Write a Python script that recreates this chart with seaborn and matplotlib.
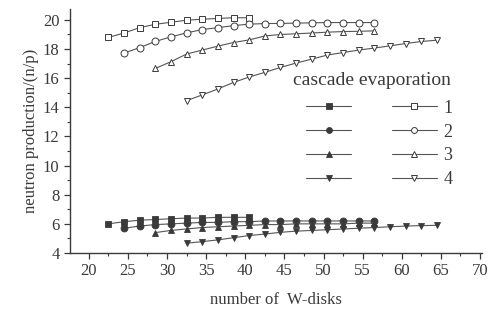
import numpy as np
import pandas as pd
import matplotlib
matplotlib.use("Agg")
import matplotlib.pyplot as plt
import seaborn as sns
from matplotlib.ticker import MultipleLocator

# ---- data ----
evap1_x = [22.5, 24.5, 26.5, 28.5, 30.5, 32.5, 34.5, 36.5, 38.5, 40.5]
evap1_y = [18.8, 19.1, 19.47, 19.7, 19.84, 19.98, 20.05, 20.1, 20.15, 20.15]

evap2_x = [24.5, 26.5, 28.5, 30.5, 32.5, 34.5, 36.5, 38.5, 40.5, 42.5, 44.5,
           46.5, 48.5, 50.5, 52.5, 54.5, 56.5]
evap2_y = [17.72, 18.1, 18.52, 18.84, 19.11, 19.34, 19.47, 19.61, 19.71, 19.75,
           19.76, 19.78, 19.8, 19.82, 19.82, 19.82, 19.82]

evap3_x = [28.5, 30.5, 32.5, 34.5, 36.5, 38.5, 40.5, 42.5, 44.5, 46.5, 48.5,
           50.5, 52.5, 54.5, 56.5]
evap3_y = [16.67, 17.13, 17.66, 17.93, 18.2, 18.45, 18.63, 18.9, 19.0, 19.05,
           19.1, 19.16, 19.2, 19.22, 19.25]

evap4_x = [32.5, 34.5, 36.5, 38.5, 40.5, 42.5, 44.5, 46.5, 48.5, 50.5, 52.5,
           54.5, 56.5, 58.5, 60.5, 62.5, 64.5]
evap4_y = [14.46, 14.85, 15.26, 15.71, 16.08, 16.4, 16.74, 17.04, 17.31, 17.59,
           17.76, 17.93, 18.07, 18.22, 18.38, 18.52, 18.61]

casc1_y = [6.0, 6.15, 6.25, 6.3, 6.35, 6.4, 6.4, 6.45, 6.45, 6.45]
casc2_y = [5.7, 5.85, 5.95, 6.0, 6.05, 6.1, 6.1, 6.15, 6.15, 6.2, 6.2, 6.2,
           6.2, 6.2, 6.2, 6.2, 6.2]
casc3_y = [5.4, 5.55, 5.65, 5.75, 5.8, 5.85, 5.9, 5.95, 5.95, 6.0, 6.0, 6.0,
           6.0, 6.05, 6.05]
casc4_y = [4.67, 4.78, 4.9, 5.05, 5.2, 5.3, 5.42, 5.5, 5.55, 5.6, 5.65, 5.7,
           5.75, 5.8, 5.85, 5.88, 5.9]

series_labels = ["1", "2", "3", "4"]
x_ticks = [20, 25, 30, 35, 40, 45, 50, 55, 60, 65, 70]
y_ticks = [4, 6, 8, 10, 12, 14, 16, 18, 20]

# ---- style ----
sns.set_style("ticks")
plt.rcParams["font.family"] = ["Liberation Serif", "DejaVu Serif"]

INK = "#3a3a3a"
LINE = "#555555"

fig = plt.figure(figsize=(4.92, 3.15), dpi=100)
ax = fig.add_axes([70 / 492, 1 - 253 / 315, 412 / 492, 244 / 315])

markers = ["s", "o", "^", "v"]
evap_x = [evap1_x, evap2_x, evap3_x, evap4_x]
evap_y = [evap1_y, evap2_y, evap3_y, evap4_y]
casc_y = [casc1_y, casc2_y, casc3_y, casc4_y]

casc_handles = []
evap_handles = []
for i in range(4):
    df_c = pd.DataFrame({"x": evap_x[i], "y": casc_y[i]})
    sns.lineplot(data=df_c, x="x", y="y", ax=ax, color=LINE, lw=0.8,
                 marker=markers[i], markersize=5, markerfacecolor=INK,
                 markeredgecolor=INK, markeredgewidth=0.6, legend=False)
    casc_handles.append(ax.lines[-1])
    df_e = pd.DataFrame({"x": evap_x[i], "y": evap_y[i]})
    sns.lineplot(data=df_e, x="x", y="y", ax=ax, color=LINE, lw=0.8,
                 marker=markers[i], markersize=5, markerfacecolor="white",
                 markeredgecolor=INK, markeredgewidth=0.7, legend=False)
    evap_handles.append(ax.lines[-1])

ax.set_xlim(17.6, 70.25)
ax.set_ylim(4, 20.75)
ax.set_xticks(x_ticks)
ax.set_yticks(y_ticks)
ax.xaxis.set_minor_locator(MultipleLocator(2.5))
ax.yaxis.set_minor_locator(MultipleLocator(1))
ax.tick_params(axis="both", which="major", direction="out", length=4,
               width=0.9, colors=INK, labelsize=12, labelcolor=INK)
ax.tick_params(axis="both", which="minor", direction="out", length=2.5,
               width=0.8, colors=INK)
sns.despine(ax=ax)
for s in ["left", "bottom"]:
    ax.spines[s].set_color(INK)
    ax.spines[s].set_linewidth(1.0)

ax.set_xlabel("number of  W-disks", fontsize=12, color=INK, labelpad=9)
ax.set_ylabel("neutron production/(n/p)", fontsize=12, color=INK, labelpad=3)

ax.text(0.733, 0.709, "cascade evaporation", transform=ax.transAxes,
        ha="center", va="center", fontsize=14, color=INK)

leg = ax.legend(casc_handles + evap_handles,
                ["", "", "", ""] + series_labels,
                ncol=2, frameon=False,
                fontsize=13, handlelength=2.5,
                handletextpad=0.35, columnspacing=1.9, labelspacing=0.38,
                borderpad=0, borderaxespad=0, markerscale=0.85,
                loc="upper left", bbox_to_anchor=(0.573, 0.628))
for t in leg.get_texts():
    t.set_color(INK)

fig.savefig("out.png", dpi=100)
